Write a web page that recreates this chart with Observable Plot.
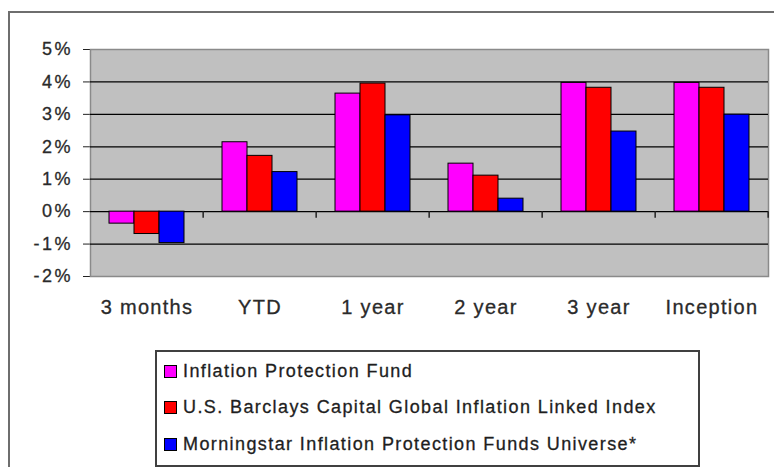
<!DOCTYPE html>
<html>
<head>
<meta charset="utf-8">
<script src="https://cdn.jsdelivr.net/npm/d3@7"></script>
<script src="https://cdn.jsdelivr.net/npm/@observablehq/plot@0.6"></script>
<style>
  html, body { margin: 0; padding: 0; background: #fff; overflow: hidden; }
  #wrap { position: relative; width: 774px; height: 467px; overflow: hidden; font-family: "Liberation Sans", Arial, sans-serif; }
  #outer { position: absolute; left: 8px; top: 11px; width: 900px; height: 600px; border-left: 2px solid #6e6e6e; border-top: 2px solid #6e6e6e; }
  #chart { position: absolute; left: 0; top: 0; }
  #chart svg text { stroke: #2a2a2a; stroke-width: 0.3px; fill: #2a2a2a; }
  #chart g[aria-label="y-axis tick label"] { font-size: 18px; letter-spacing: 2.5px; }
  #chart g[aria-label="fx-axis tick label"] { font-size: 20px; letter-spacing: 1.3px; }
  #legend { position: absolute; left: 155px; top: 350px; width: 541px; height: 112px; border: 2px solid #404040; padding-top: 1px; box-sizing: content-box; }
  .row { display: flex; align-items: center; height: 36.5px; font-size: 18px; letter-spacing: 1.4px; color: #1e1e1e; white-space: nowrap; -webkit-text-stroke: 0.3px #1e1e1e; }
  .sw { width: 11px; height: 11px; border: 1px solid #000; margin-left: 7px; margin-right: 6px; flex: none; }
</style>
</head>
<body>
<div id="wrap">
  <div id="outer"></div>
  <div id="chart"></div>
  <div id="legend"></div>
</div>
<script>
const categories = ["3 months", "YTD", "1 year", "2 year", "3 year", "Inception"];
const series = [
  "Inflation Protection Fund",
  "U.S. Barclays Capital Global Inflation Linked Index",
  "Morningstar Inflation Protection Funds Universe*"
];
const fundValues = [-0.37, 2.14, 3.64, 1.48, 3.97, 3.97];
const indexValues = [-0.69, 1.72, 3.95, 1.11, 3.82, 3.82];
const universeValues = [-0.97, 1.22, 2.97, 0.40, 2.47, 2.99];
const yTicks = [-2, -1, 0, 1, 2, 3, 4, 5];
const colors = ["#ff00ff", "#ff0000", "#0000ff"];

const seriesValues = [fundValues, indexValues, universeValues];
const rows = [];
categories.forEach((c, i) => {
  series.forEach((s, j) => rows.push({category: c, series: s, value: seriesValues[j][i]}));
});

const W = 774, ML = 87, MR = 4;
const paddingOuter = 0.71;
const facetWidth = (W - ML - MR) / categories.length;
const step = facetWidth / (series.length + 2 * paddingOuter);
const edgeOffset = (paddingOuter + 0.5) * step;

const chart = Plot.plot({
  width: W,
  height: 330,
  marginLeft: ML,
  marginRight: MR,
  marginTop: 49,
  marginBottom: 54,
  style: {fontFamily: "'Liberation Sans', Arial, sans-serif", fontSize: "19px", color: "#222", background: "transparent", overflow: "visible"},
  fx: {domain: categories, padding: 0, axis: "bottom", tickSize: 0, tickPadding: 23, label: null},
  x: {domain: series, paddingInner: 0, paddingOuter: paddingOuter, axis: null},
  y: {domain: [-2, 5], ticks: yTicks, tickFormat: d => d + "%", tickSize: 7, tickPadding: 10.5, line: true, label: null},
  color: {domain: series, range: colors},
  marks: [
    Plot.frame({facet: "super", fill: "#c0c0c0", stroke: "#8a8a8a", strokeWidth: 1.5}),
    Plot.ruleY(yTicks.filter(t => t > -2 && t < 5), {stroke: "#000", strokeWidth: 1.2}),
    Plot.barY(rows, {fx: "category", x: "series", y: "value", fill: "series", stroke: "#000", strokeWidth: 1}),
    Plot.ruleX(categories, {fx: d => d, x: d => series[series.length - 1], y1: 0, y2: -0.2, dx: edgeOffset, stroke: "#222", strokeWidth: 1.5})
  ]
});
document.getElementById("chart").appendChild(chart);

const legend = document.getElementById("legend");
series.forEach((s, j) => {
  const row = document.createElement("div");
  row.className = "row";
  const sw = document.createElement("span");
  sw.className = "sw";
  sw.style.background = colors[j];
  const t = document.createElement("span");
  t.textContent = s;
  row.appendChild(sw);
  row.appendChild(t);
  legend.appendChild(row);
});
</script>
</body>
</html>
